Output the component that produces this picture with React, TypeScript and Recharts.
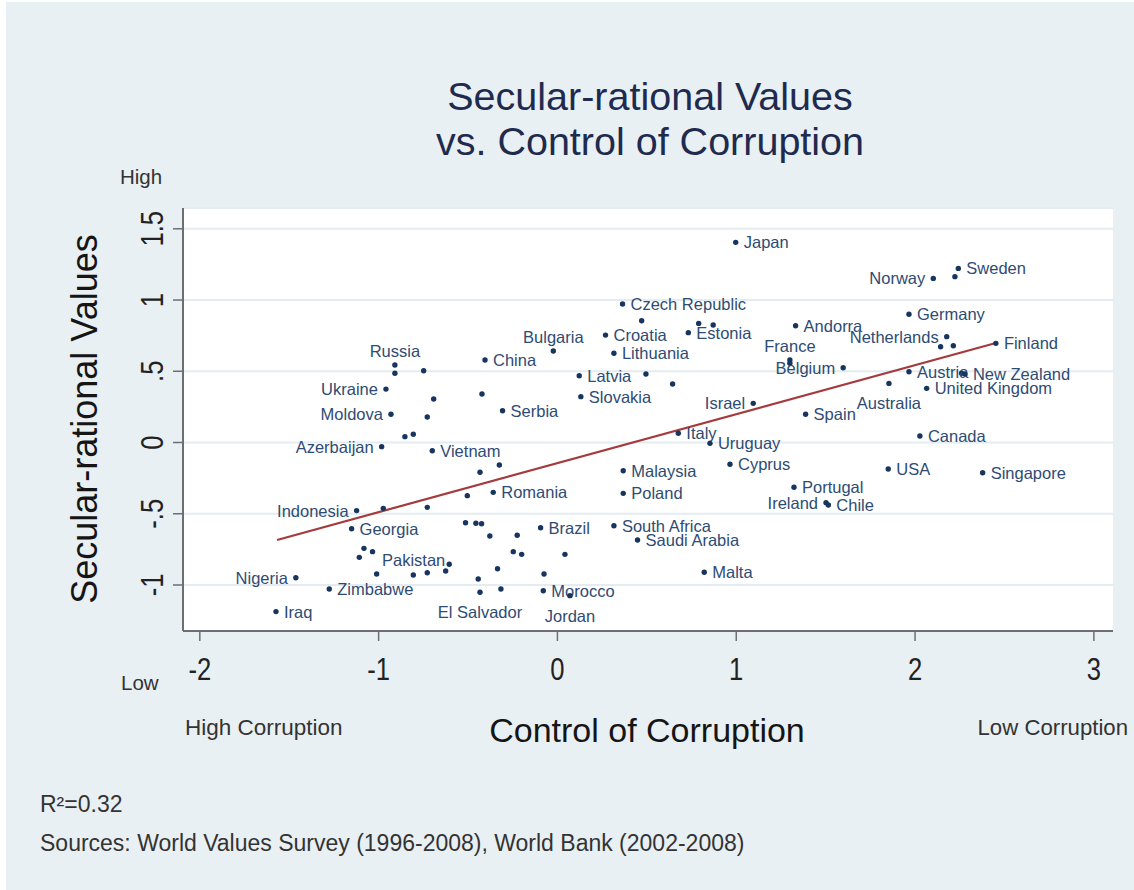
import React from "react";
import {
  ScatterChart,
  Scatter,
  XAxis,
  YAxis,
  CartesianGrid,
  ReferenceLine,
} from "recharts";

// ---------- DATA ----------
// Labeled countries: x = Control of Corruption, y = Secular-rational Values
const labeledCountries = [
  { name: "Japan", x: 0.997, y: 1.405 },
  { name: "Sweden", x: 2.242, y: 1.222 },
  { name: "Norway", x: 2.102, y: 1.152 },
  { name: "Germany", x: 1.966, y: 0.9 },
  { name: "Czech Republic", x: 0.364, y: 0.972 },
  { name: "Croatia", x: 0.269, y: 0.754 },
  { name: "Estonia", x: 0.732, y: 0.771 },
  { name: "Andorra", x: 1.332, y: 0.82 },
  { name: "Netherlands", x: 2.177, y: 0.743 },
  { name: "Finland", x: 2.452, y: 0.696 },
  { name: "Bulgaria", x: -0.023, y: 0.642 },
  { name: "Lithuania", x: 0.316, y: 0.626 },
  { name: "Russia", x: -0.909, y: 0.544 },
  { name: "China", x: -0.405, y: 0.579 },
  { name: "France", x: 1.3, y: 0.579 },
  { name: "Belgium", x: 1.598, y: 0.525 },
  { name: "Latvia", x: 0.122, y: 0.469 },
  { name: "Austria", x: 1.966, y: 0.497 },
  { name: "New Zealand", x: 2.279, y: 0.481 },
  { name: "United Kingdom", x: 2.065, y: 0.38 },
  { name: "Ukraine", x: -0.959, y: 0.375 },
  { name: "Slovakia", x: 0.131, y: 0.322 },
  { name: "Australia", x: 1.854, y: 0.415 },
  { name: "Israel", x: 1.095, y: 0.275 },
  { name: "Moldova", x: -0.931, y: 0.198 },
  { name: "Serbia", x: -0.307, y: 0.223 },
  { name: "Spain", x: 1.388, y: 0.198 },
  { name: "Italy", x: 0.676, y: 0.065 },
  { name: "Canada", x: 2.027, y: 0.046 },
  { name: "Uruguay", x: 0.853, y: -0.006 },
  { name: "Azerbaijan", x: -0.983, y: -0.029 },
  { name: "Vietnam", x: -0.7, y: -0.058 },
  { name: "Cyprus", x: 0.965, y: -0.153 },
  { name: "Malaysia", x: 0.368, y: -0.198 },
  { name: "USA", x: 1.85, y: -0.186 },
  { name: "Singapore", x: 2.378, y: -0.212 },
  { name: "Romania", x: -0.359, y: -0.35 },
  { name: "Poland", x: 0.368, y: -0.357 },
  { name: "Portugal", x: 1.323, y: -0.314 },
  { name: "Ireland", x: 1.502, y: -0.422 },
  { name: "Chile", x: 1.515, y: -0.439 },
  { name: "Indonesia", x: -1.123, y: -0.478 },
  { name: "Georgia", x: -1.151, y: -0.605 },
  { name: "Brazil", x: -0.094, y: -0.598 },
  { name: "South Africa", x: 0.316, y: -0.584 },
  { name: "Saudi Arabia", x: 0.448, y: -0.684 },
  { name: "Pakistan", x: -0.605, y: -0.855 },
  { name: "Malta", x: 0.821, y: -0.911 },
  { name: "Nigeria", x: -1.463, y: -0.949 },
  { name: "Zimbabwe", x: -1.276, y: -1.028 },
  { name: "Morocco", x: -0.079, y: -1.04 },
  { name: "El Salvador", x: -0.433, y: -1.051 },
  { name: "Jordan", x: 0.07, y: -1.075 },
  { name: "Iraq", x: -1.574, y: -1.187 },
];

// Unlabeled countries
const unlabeledCountries = [
  { x: -0.909, y: 0.486 },
  { x: -0.748, y: 0.504 },
  { x: -0.692, y: 0.305 },
  { x: -0.422, y: 0.34 },
  { x: -0.728, y: 0.179 },
  { x: -0.853, y: 0.041 },
  { x: -0.806, y: 0.058 },
  { x: -0.433, y: -0.209 },
  { x: -0.325, y: -0.158 },
  { x: -0.504, y: -0.373 },
  { x: -0.974, y: -0.462 },
  { x: -0.728, y: -0.455 },
  { x: -0.514, y: -0.563 },
  { x: -0.456, y: -0.567 },
  { x: -0.424, y: -0.57 },
  { x: -0.378, y: -0.656 },
  { x: -0.225, y: -0.651 },
  { x: -1.082, y: -0.743 },
  { x: -1.034, y: -0.766 },
  { x: -1.108, y: -0.806 },
  { x: -0.625, y: -0.902 },
  { x: -0.247, y: -0.766 },
  { x: -0.2, y: -0.785 },
  { x: -1.011, y: -0.923 },
  { x: -0.806, y: -0.93 },
  { x: -0.728, y: -0.914 },
  { x: -0.335, y: -0.886 },
  { x: -0.443, y: -0.958 },
  { x: -0.316, y: -1.028 },
  { x: -0.075, y: -0.923 },
  { x: 0.042, y: -0.785 },
  { x: 0.471, y: 0.855 },
  { x: 0.79, y: 0.836 },
  { x: 0.871, y: 0.825 },
  { x: 0.495, y: 0.481 },
  { x: 0.644, y: 0.411 },
  { x: 1.3, y: 0.556 },
  { x: 2.223, y: 1.164 },
  { x: 2.143, y: 0.672 },
  { x: 2.214, y: 0.679 },
  { x: 2.26, y: 0.486 },
];

// Fitted regression line endpoints
const fitLine = [
  { x: -1.568, y: -0.684 },
  { x: 2.452, y: 0.698 },
];

const xTicks = [-2, -1, 0, 1, 2, 3];
const yTicks = [-1, -0.5, 0, 0.5, 1, 1.5];
const yTickLabels: Record<string, string> = {
  "-1": "-1",
  "-0.5": "-.5",
  "0": "0",
  "0.5": ".5",
  "1": "1",
  "1.5": "1.5",
};

const titleLines = ["Secular-rational Values", "vs. Control of Corruption"];
const xTitle = "Control of Corruption";
const yTitle = "Secular-rational Values";
const rSquared = "R²=0.32";
const sourceNote = "Sources: World Values Survey (1996-2008), World Bank (2002-2008)";

// ---------- STYLE ----------
const FONT = "'Liberation Sans', Arial, Helvetica, sans-serif";
const BG = "#e9f0f3";
const DOT = "#18355f";
const LABEL = "#2e4b73";
const FIT = "#a53a3d";

const labelPlacement: Record<string, string> = {
  Norway: "l",
  Netherlands: "l",
  Belgium: "l",
  Ukraine: "l",
  Moldova: "l",
  Azerbaijan: "l",
  Indonesia: "l",
  Nigeria: "l",
  Israel: "l",
  Ireland: "l",
  Pakistan: "ul",
  Russia: "t",
  Bulgaria: "t",
  France: "t",
  Australia: "b",
  "El Salvador": "b",
  Jordan: "b",
};

const LabeledDot = (props: any) => {
  const { cx, cy, payload } = props;
  if (cx == null || cy == null) return null;
  const pos = labelPlacement[payload.name] || "r";
  let tx = cx + 8;
  let ty = cy + 6;
  let anchor: any = "start";
  if (pos === "l") {
    tx = cx - 8;
    anchor = "end";
  } else if (pos === "ul") {
    tx = cx - 4;
    ty = cy + 2;
    anchor = "end";
  } else if (pos === "t") {
    tx = cx;
    ty = cy - 8;
    anchor = "middle";
  } else if (pos === "b") {
    tx = cx;
    ty = cy + 26;
    anchor = "middle";
  }
  return (
    <g>
      <circle cx={cx} cy={cy} r={2.7} fill={DOT} />
      <text
        x={tx}
        y={ty}
        textAnchor={anchor}
        fontSize={16.5}
        fontFamily={FONT}
        fill={LABEL}
      >
        {payload.name}
      </text>
    </g>
  );
};

const PlainDot = (props: any) => {
  const { cx, cy } = props;
  if (cx == null || cy == null) return null;
  return <circle cx={cx} cy={cy} r={2.7} fill={DOT} />;
};

const XTick = (props: any) => {
  const { x, y, payload } = props;
  return (
    <text
      transform={`translate(${x},${y + 39}) scale(0.8,1)`}
      textAnchor="middle"
      fontSize={32}
      fontFamily={FONT}
      fill="#222"
    >
      {String(payload.value)}
    </text>
  );
};

const YTick = (props: any) => {
  const { x, y, payload } = props;
  return (
    <text
      transform={`translate(${x - 10},${y}) rotate(-90) scale(0.8,1)`}
      textAnchor="middle"
      fontSize={32}
      fontFamily={FONT}
      fill="#222"
    >
      {yTickLabels[String(payload.value)] ?? String(payload.value)}
    </text>
  );
};

export default function App() {
  const W = 1134;
  const H = 890;
  return (
    <div
      style={{
        position: "absolute",
        left: 0,
        top: 0,
        width: W,
        height: H,
        background: "#ffffff",
        overflow: "hidden",
      }}
    >
      <div
        style={{
          position: "absolute",
          left: 6,
          top: 2,
          width: W - 6,
          height: H - 2,
          background: BG,
        }}
      />
      <div style={{ position: "absolute", left: 0, top: 0 }}>
        <ScatterChart
          width={W}
          height={H}
          margin={{ top: 208, right: 21, bottom: 199, left: 123 }}
        >
          <CartesianGrid
            horizontal={true}
            vertical={false}
            fill="#ffffff"
            stroke="#e3ecf0"
            strokeWidth={2}
          />
          <XAxis
            type="number"
            dataKey="x"
            domain={[-2.094, 3.107]}
            ticks={xTicks}
            allowDataOverflow
            height={60}
            tickSize={10}
            tickMargin={0}
            axisLine={{ stroke: "#6b6f73", strokeWidth: 2 }}
            tickLine={{ stroke: "#6b6f73", strokeWidth: 1.5 }}
            tick={<XTick />}
            interval={0}
          />
          <YAxis
            type="number"
            dataKey="y"
            domain={[-1.323, 1.646]}
            ticks={yTicks}
            allowDataOverflow
            width={60}
            tickSize={10}
            tickMargin={0}
            axisLine={{ stroke: "#6b6f73", strokeWidth: 2 }}
            tickLine={{ stroke: "#6b6f73", strokeWidth: 1.5 }}
            tick={<YTick />}
            interval={0}
          />
          <ReferenceLine
            segment={fitLine}
            stroke={FIT}
            strokeWidth={2.2}
            ifOverflow="visible"
          />
          <Scatter
            data={unlabeledCountries}
            shape={PlainDot}
            isAnimationActive={false}
          />
          <Scatter
            data={labeledCountries}
            shape={LabeledDot}
            isAnimationActive={false}
          />
        </ScatterChart>
      </div>
      <svg
        width={W}
        height={H}
        style={{ position: "absolute", left: 0, top: 0, pointerEvents: "none" }}
      >
        <text
          x={650}
          y={110}
          textAnchor="middle"
          fontSize={39.5}
          fontFamily={FONT}
          fill="#1e2b4f"
        >
          {titleLines[0]}
        </text>
        <text
          x={650}
          y={155}
          textAnchor="middle"
          fontSize={39.5}
          fontFamily={FONT}
          fill="#1e2b4f"
        >
          {titleLines[1]}
        </text>
        <text x={120} y={184} fontSize={20.5} fontFamily={FONT} fill="#333">
          High
        </text>
        <text x={121} y={690} fontSize={20.5} fontFamily={FONT} fill="#333">
          Low
        </text>
        <text
          transform="translate(97,419) rotate(-90)"
          textAnchor="middle"
          fontSize={36}
          fontFamily={FONT}
          fill="#151515"
        >
          {yTitle}
        </text>
        <text
          x={647}
          y={742}
          textAnchor="middle"
          fontSize={34}
          fontFamily={FONT}
          fill="#151515"
        >
          {xTitle}
        </text>
        <text x={185} y={735} fontSize={22.5} fontFamily={FONT} fill="#333">
          High Corruption
        </text>
        <text
          x={1128}
          y={735}
          textAnchor="end"
          fontSize={22.2}
          fontFamily={FONT}
          fill="#333"
        >
          Low Corruption
        </text>
        <text x={40} y={812} fontSize={23} fontFamily={FONT} fill="#333">
          {rSquared}
        </text>
        <text x={40} y={851} fontSize={23} fontFamily={FONT} fill="#333">
          {sourceNote}
        </text>
      </svg>
    </div>
  );
}
